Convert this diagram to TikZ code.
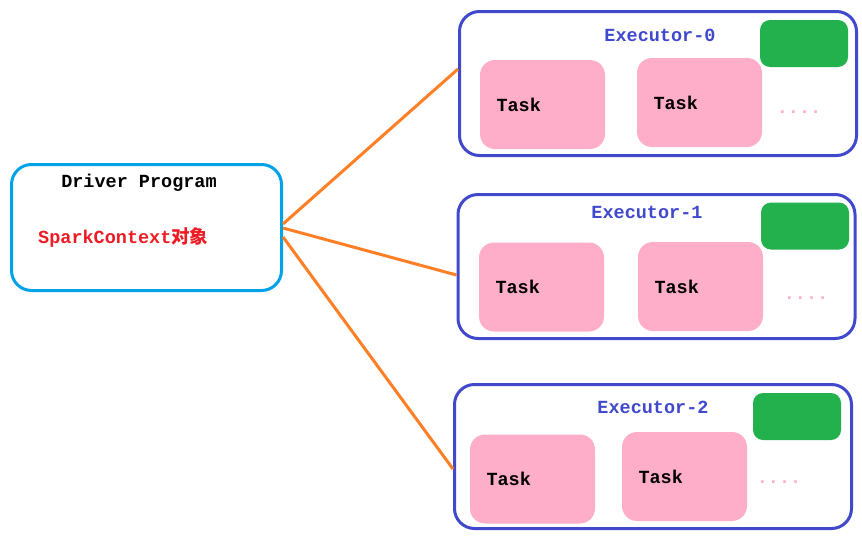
\documentclass[tikz,border=0pt]{standalone}
\usepackage{fontspec}
\setmainfont{Liberation Mono}
\newfontfamily\cjk{Noto Sans CJK SC}
\usepackage{tikz}
\usetikzlibrary{positioning}
\definecolor{drvblue}{RGB}{0,162,232}
\definecolor{exblue}{RGB}{64,72,204}
\definecolor{taskpink}{RGB}{255,174,201}
\definecolor{slotgreen}{RGB}{34,177,76}
\definecolor{linkorange}{RGB}{255,127,39}
\definecolor{ctxred}{RGB}{237,28,36}

\begin{document}
\begin{tikzpicture}
  [
  x=1pt,y=-1pt,
  every node/.style={font=\fontsize{18.5}{20}\selectfont\bfseries},
  driver/.style={rectangle,rounded corners=20pt,draw=drvblue,line width=3pt,minimum width=270pt,minimum height=126pt},
  executor/.style={rectangle,rounded corners=20pt,draw=exblue,line width=3pt,minimum width=397pt,minimum height=144pt},
  task/.style={rectangle,rounded corners=15pt,fill=taskpink,inner sep=0pt,minimum width=125pt,minimum height=89pt},
  slot/.style={rectangle,rounded corners=10pt,fill=slotgreen,inner sep=0pt,minimum width=88pt,minimum height=47pt},
  title/.style={inner sep=0pt,text=exblue},
  tasktext/.style={inner sep=0pt,anchor=west,text=black},
  more/.style={inner sep=0pt,anchor=base,text=taskpink},
  link/.style={draw=linkorange,line width=3pt}
  ]
  \useasboundingbox (0,0) rectangle (862,538);

  % driver side
  \node[driver] (drv) at (146.5,227.5) {};
  \node[inner sep=0pt] (drvname) at (139,183) {Driver Program};
  \node[inner sep=0pt,anchor=west,text=ctxred] (ctx) at (38,237) {SparkContext{\cjk 对象}};

  % executors
  \node[executor] (ex0) at (658,83.5) {};
  \node[executor] (ex1) at (656.5,266.5) {};
  \node[executor] (ex2) at (653,456.5) {};

  \node[title] (ex0name) at (660,35) {Executor-0};
  \node[title] (ex1name) at (647,212) {Executor-1};
  \node[title] (ex2name) at (653,407) {Executor-2};

  \node[slot] (slot0) at (804,43.5) {};
  \node[slot] (slot1) at (805,226) {};
  \node[slot] (slot2) at (797,416.5) {};

  \node[task] (t01) at (542.5,104.5) {};
  \node[task] (t02) at (699.5,102.5) {};
  \node[task] (t11) at (541.5,287) {};
  \node[task] (t12) at (700.5,286.5) {};
  \node[task] (t21) at (532.5,479) {};
  \node[task] (t22) at (684.5,476.5) {};

  \foreach \t in {t01,t02,t11,t12,t21,t22}
    \node[tasktext] (\t name) [right=16.5pt of \t.west] {Task};

  \node[more] (more0) at (799,113) {....};
  \node[more] (more1) at (806,299) {....};
  \node[more] (more2) at (779,483) {....};

  % connections
  \draw[link] ([yshift=3.5pt]drv.east) -- ([yshift=14.5pt]ex0.west);
  \draw[link] ([yshift=-0.5pt]drv.east) -- ([yshift=-8.5pt]ex1.west);
  \draw[link] ([yshift=-9.5pt]drv.east) -- ([yshift=-12.5pt]ex2.west);
\end{tikzpicture}
\end{document}
